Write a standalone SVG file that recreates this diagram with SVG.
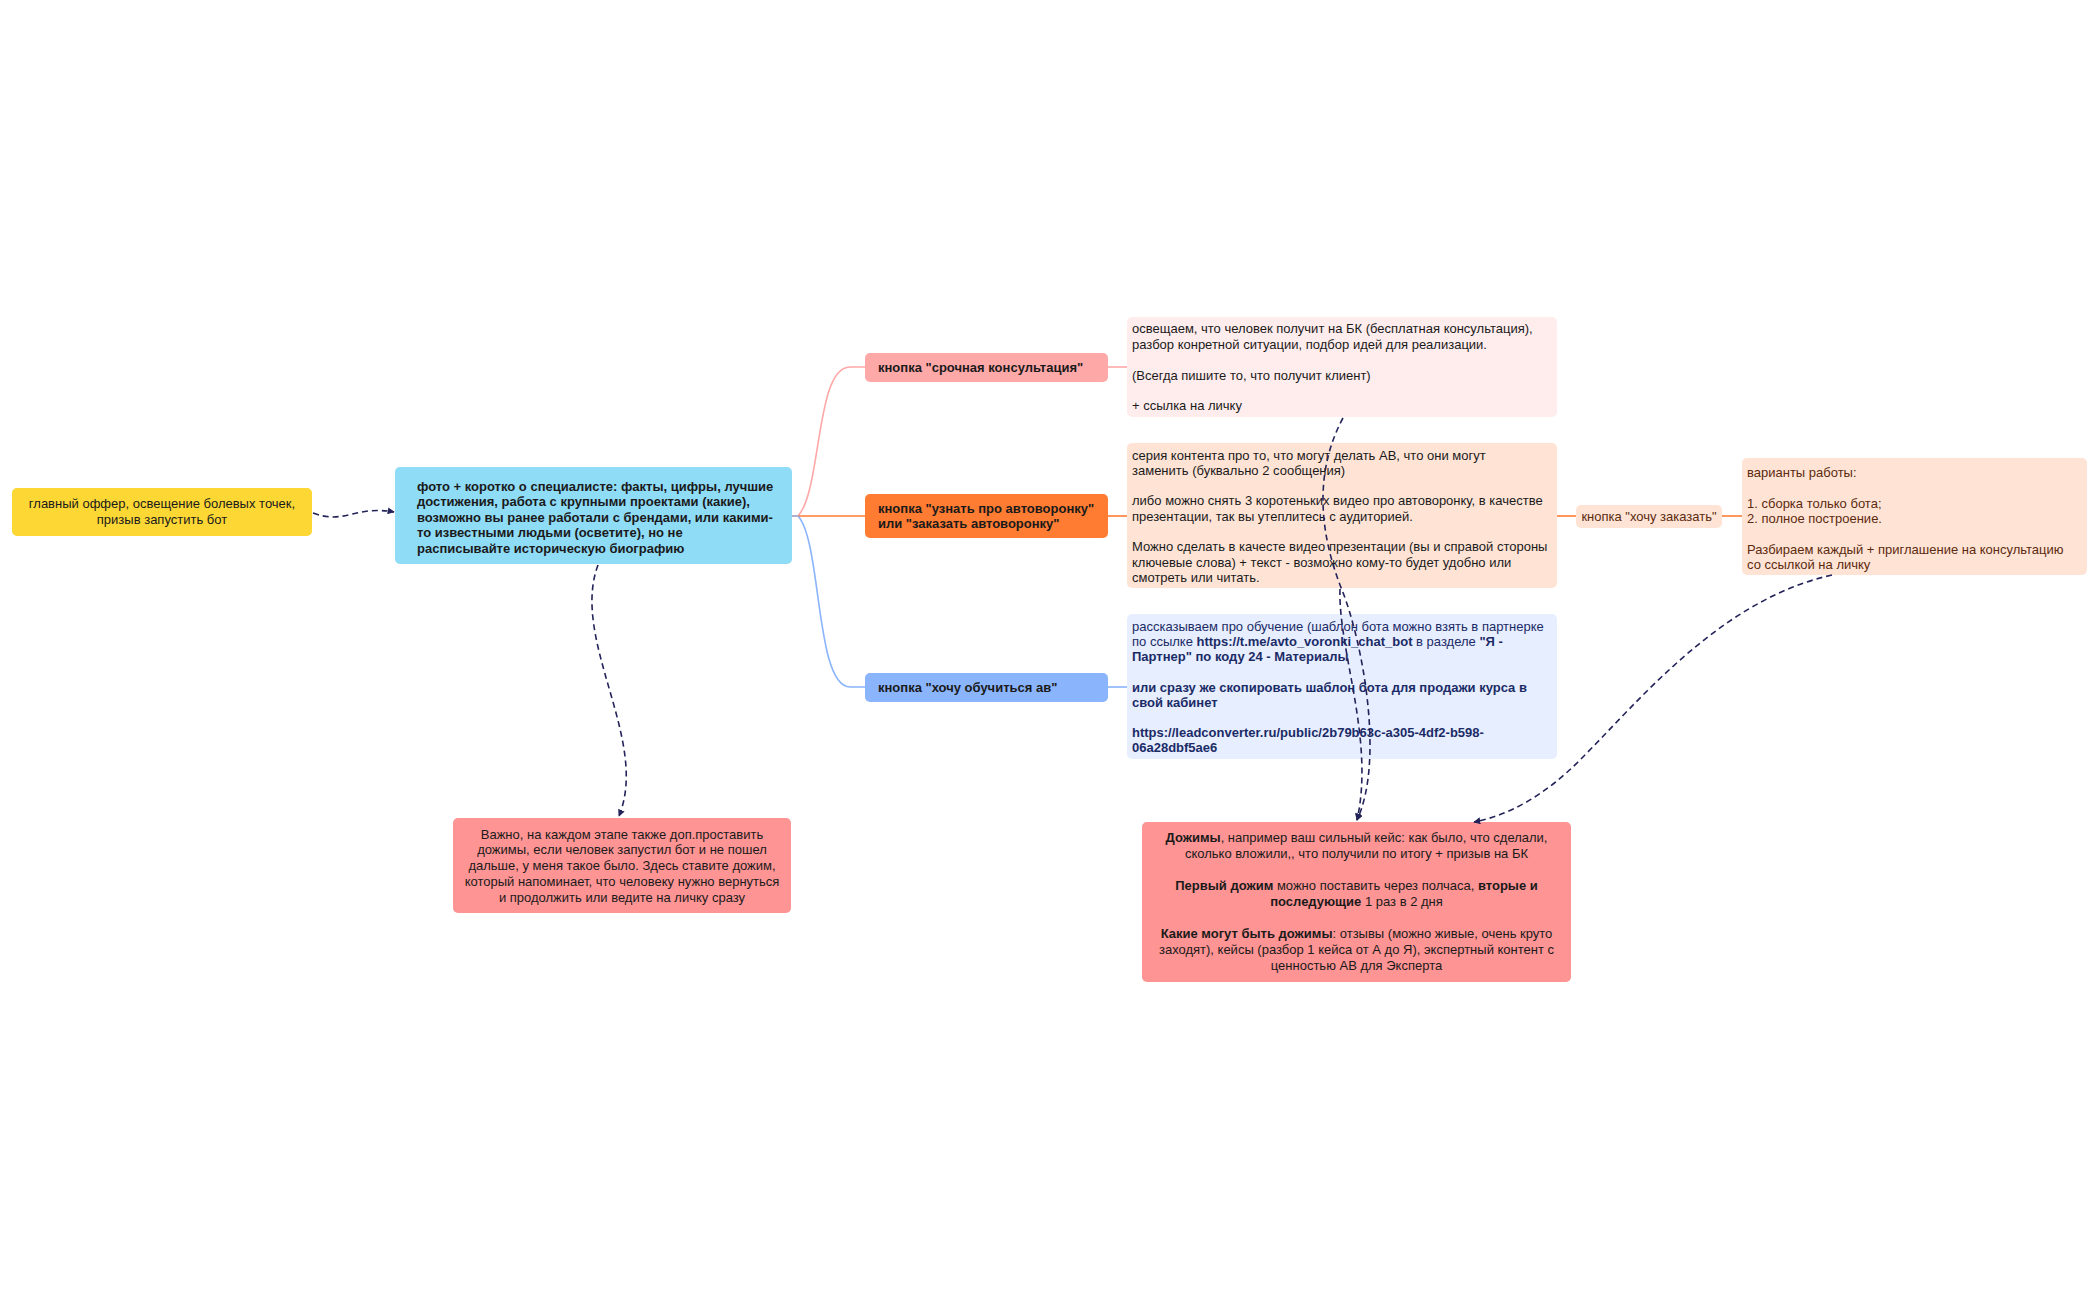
<svg xmlns="http://www.w3.org/2000/svg" width="2100" height="1299" viewBox="0 0 2100 1299">
<style>
text{font-family:"Liberation Sans","Noto Sans",sans-serif;font-size:13px;fill:#1a1a1a}
.b{font-weight:bold}
.c{text-anchor:middle}
.navy{fill:#1b2b66}
.brown{fill:#5c2a0e}
.dash{fill:none;stroke:#23235a;stroke-width:1.6;stroke-dasharray:6 4;marker-end:url(#arr)}
.tree{fill:none;stroke-width:1.6}
</style>
<defs>
<marker id="arr" viewBox="0 0 10 10" refX="9" refY="5" markerWidth="7" markerHeight="7" orient="auto" markerUnits="userSpaceOnUse">
<path d="M0,0 L10,5 L0,10 z" fill="#23235a"/>
</marker>
</defs>
<rect width="2100" height="1299" fill="#ffffff"/>

<g id="offer">
<rect x="12" y="488" width="300" height="48" rx="5" fill="#fdd835"/>
<text class="c" x="162" y="508">главный оффер, освещение болевых точек,</text>
<text class="c" x="162" y="524">призыв запустить бот</text>
</g>

<g id="specialist">
<rect x="395" y="467" width="397" height="97" rx="5" fill="#8fdcf7"/>
<text class="b" x="417" y="490.5">фото + коротко о специалисте: факты, цифры, лучшие</text>
<text class="b" x="417" y="506">достижения, работа с крупными проектами (какие),</text>
<text class="b" x="417" y="521.5">возможно вы ранее работали с брендами, или какими-</text>
<text class="b" x="417" y="537">то известными людьми (осветите), но не</text>
<text class="b" x="417" y="552.5">расписывайте историческую биографию</text>
</g>

<g id="btn-consult">
<rect x="865" y="353" width="243" height="29" rx="5" fill="#ffa8a8"/>
<text class="b" x="878" y="372">кнопка "срочная консультация"</text>
</g>

<g id="btn-auto">
<rect x="865" y="494" width="243" height="44" rx="5" fill="#ff7c32"/>
<text class="b" x="878" y="512.5">кнопка "узнать про автоворонку"</text>
<text class="b" x="878" y="528">или "заказать автоворонку"</text>
</g>

<g id="btn-learn">
<rect x="865" y="673" width="243" height="29" rx="5" fill="#8ab4fc"/>
<text class="b" x="878" y="692">кнопка "хочу обучиться ав"</text>
</g>

<g id="note-consult">
<rect x="1127" y="317" width="430" height="100" rx="5" fill="#ffeded"/>
<text x="1132" y="333">освещаем, что человек получит на БК (бесплатная консультация),</text>
<text x="1132" y="348.5">разбор конретной ситуации, подбор идей для реализации.</text>
<text x="1132" y="379.5">(Всегда пишите то, что получит клиент)</text>
<text x="1132" y="410">+ ссылка на личку</text>
</g>

<g id="note-auto">
<rect x="1127" y="443" width="430" height="145" rx="5" fill="#ffe4d6"/>
<text x="1132" y="459.5">серия контента про то, что могут делать АВ, что они могут</text>
<text x="1132" y="474.8">заменить (буквально 2 сообщения)</text>
<text x="1132" y="505.4">либо можно снять 3 коротеньких видео про автоворонку, в качестве</text>
<text x="1132" y="520.7">презентации, так вы утеплитесь с аудиторией.</text>
<text x="1132" y="551.3">Можно сделать в качесте видео презентации (вы и справой стороны</text>
<text x="1132" y="566.6">ключевые слова) + текст - возможно кому-то будет удобно или</text>
<text x="1132" y="581.9">смотреть или читать.</text>
</g>

<g id="note-learn">
<rect x="1127" y="614" width="430" height="145" rx="5" fill="#e6eeff"/>
<text class="navy" x="1132" y="631">рассказываем про обучение (шаблон бота можно взять в партнерке</text>
<text class="navy" x="1132" y="646">по ссылке <tspan class="b">https://t.me/avto_voronki_chat_bot</tspan> в разделе <tspan class="b">"Я -</tspan></text>
<text class="navy b" x="1132" y="661">Партнер" по коду 24 - Материалы</text>
<text class="navy b" x="1132" y="691.5">или сразу же скопировать шаблон бота для продажи курса в</text>
<text class="navy b" x="1132" y="706.5">свой кабинет</text>
<text class="navy b" x="1132" y="737">https://leadconverter.ru/public/2b79b63c-a305-4df2-b598-</text>
<text class="navy b" x="1132" y="752">06a28dbf5ae6</text>
</g>

<g id="btn-order">
<rect x="1576" y="505" width="146" height="23" rx="5" fill="#ffe4d6"/>
<text class="c brown" x="1649" y="521">кнопка "хочу заказать"</text>
</g>

<g id="variants">
<rect x="1742" y="458" width="345" height="117" rx="5" fill="#ffe4d6"/>
<text class="brown" x="1747" y="477">варианты работы:</text>
<text class="brown" x="1747" y="507.5">1. сборка только бота;</text>
<text class="brown" x="1747" y="523">2. полное построение.</text>
<text class="brown" x="1747" y="553.5">Разбираем каждый + приглашение на консультацию</text>
<text class="brown" x="1747" y="569">со ссылкой на личку</text>
</g>

<g id="note-important">
<rect x="453" y="818" width="338" height="95" rx="5" fill="#ff9494"/>
<text class="c" x="622" y="838.5">Важно, на каждом этапе также доп.проставить</text>
<text class="c" x="622" y="854.2">дожимы, если человек запустил бот и не пошел</text>
<text class="c" x="622" y="870">дальше, у меня такое было. Здесь ставите дожим,</text>
<text class="c" x="622" y="885.8">который напоминает, что человеку нужно вернуться</text>
<text class="c" x="622" y="901.5">и продолжить или ведите на личку сразу</text>
</g>

<g id="note-push">
<rect x="1142" y="822" width="429" height="160" rx="5" fill="#ff9494"/>
<text class="c" x="1356.5" y="842"><tspan class="b">Дожимы</tspan>, например ваш сильный кейс: как было, что сделали,</text>
<text class="c" x="1356.5" y="858">сколько вложили,, что получили по итогу + призыв на БК</text>
<text class="c" x="1356.5" y="890"><tspan class="b">Первый дожим</tspan> можно поставить через полчаса, <tspan class="b">вторые и</tspan></text>
<text class="c" x="1356.5" y="906"><tspan class="b">последующие</tspan> 1 раз в 2 дня</text>
<text class="c" x="1356.5" y="938"><tspan class="b">Какие могут быть дожимы</tspan>: отзывы (можно живые, очень круто</text>
<text class="c" x="1356.5" y="954">заходят), кейсы (разбор 1 кейса от А до Я), экспертный контент с</text>
<text class="c" x="1356.5" y="970">ценностью АВ для Эксперта</text>
</g>

<g id="connectors">
<path class="tree" stroke="#9a9ac0" d="M792 516 L800 516"/>
<path class="tree" stroke="#ffa8a8" d="M798 516 C822 490 815 367 850 367 L865 367"/>
<path class="tree" stroke="#ff7c32" d="M798 516 L865 516"/>
<path class="tree" stroke="#8ab4fc" d="M798 516 C822 542 815 687 850 687 L865 687"/>
<path class="tree" stroke="#ffa8a8" d="M1108 367 L1127 367"/>
<path class="tree" stroke="#ff7c32" d="M1108 516 L1127 516"/>
<path class="tree" stroke="#8ab4fc" d="M1108 687 L1127 687"/>
<path class="tree" stroke="#ff7c32" d="M1557 516 L1576 516"/>
<path class="tree" stroke="#ff7c32" d="M1722 516 L1742 516"/>
<path class="dash" d="M313 513 C345 525 355 505 394 512"/>
<path class="dash" d="M598 565 C570 640 650 740 619 816"/>
<path class="dash" d="M1343 418 C1315 470 1318 530 1342 590 C1362 640 1385 760 1357 820"/>
<path class="dash" d="M1340 589 C1338 650 1375 740 1357 820"/>
<path class="dash" d="M1832 575 C1720 600 1640 700 1580 760 C1545 795 1510 815 1474 822"/>
</g>
</svg>
